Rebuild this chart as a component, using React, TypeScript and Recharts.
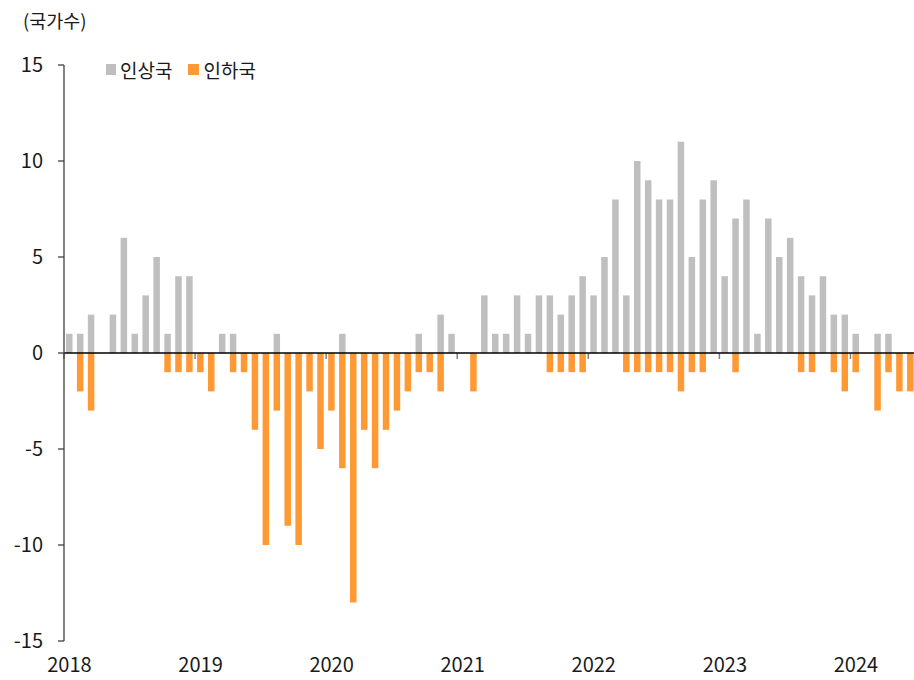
import React from 'react';
import { BarChart, Bar, XAxis, YAxis, ReferenceLine, Legend } from 'recharts';

const YEARS = [2018, 2019, 2020, 2021, 2022, 2023, 2024];
const MONTHS_IN_LAST_YEAR = 6;
const categories: string[] = [];
YEARS.forEach((y, i) => {
  const n = i === YEARS.length - 1 ? MONTHS_IN_LAST_YEAR : 12;
  for (let m = 1; m <= n; m++) categories.push(`${y}-${String(m).padStart(2, '0')}`);
});

// 인상국 (countries raising rates)
const hikes = [
  1, 1, 2, 0, 2, 6, 1, 3, 5, 1, 4, 4,
  0, 0, 1, 1, 0, 0, 0, 1, 0, 0, 0, 0,
  0, 1, 0, 0, 0, 0, 0, 0, 1, 0, 2, 1,
  0, 0, 3, 1, 1, 3, 1, 3, 3, 2, 3, 4,
  3, 5, 8, 3, 10, 9, 8, 8, 11, 5, 8, 9,
  4, 7, 8, 1, 7, 5, 6, 4, 3, 4, 2, 2,
  1, 0, 1, 1, 0, 0,
];

// 인하국 (countries cutting rates)
const cuts = [
  0, -2, -3, 0, 0, 0, 0, 0, 0, -1, -1, -1,
  -1, -2, 0, -1, -1, -4, -10, -3, -9, -10, -2, -5,
  -3, -6, -13, -4, -6, -4, -3, -2, -1, -1, -2, 0,
  0, -2, 0, 0, 0, 0, 0, 0, -1, -1, -1, -1,
  0, 0, 0, -1, -1, -1, -1, -1, -2, -1, -1, 0,
  0, -1, 0, 0, 0, 0, 0, -1, -1, 0, -1, -2,
  -1, 0, -3, -1, -2, -2,
];

const yTicks = [-15, -10, -5, 0, 5, 10, 15];
const HIKE_NAME = '인상국';
const CUT_NAME = '인하국';
const UNIT_LABEL = '(국가수)';

const HIKE_COLOR = '#BFBFBF';
const CUT_COLOR = '#FF9933';
const FONT = "'Noto Sans CJK KR', 'Noto Sans', sans-serif";

const data = categories.map((month, i) => ({ month, hike: hikes[i], cut: cuts[i] }));

const ZeroLineWithTicks = (props: any) => {
  const { x1, x2, y1 } = props;
  const n = categories.length;
  const band = (x2 - x1) / n;
  const marks: React.ReactNode[] = [];
  categories.forEach((c, i) => {
    if (c.endsWith('-01')) {
      const x = x1 + i * band;
      marks.push(<line key={c} x1={x} x2={x} y1={y1} y2={y1 + 6} stroke="#7F7F7F" strokeWidth={1.5} />);
    }
  });
  return (
    <g>
      {marks}
      <line x1={x1} x2={x2} y1={y1} y2={y1} stroke="#000" strokeWidth={1.5} />
    </g>
  );
};

const LegendContent = () => (
  <div style={{ display: 'flex', alignItems: 'center', whiteSpace: 'nowrap', fontFamily: FONT, fontSize: 19, color: '#1a1a1a', lineHeight: '19px' }}>
    <span style={{ display: 'inline-block', flex: 'none', width: 10, height: 11, background: HIKE_COLOR, marginRight: 4 }} />
    <span style={{ marginRight: 16 }}>{HIKE_NAME}</span>
    <span style={{ display: 'inline-block', flex: 'none', width: 11, height: 11, background: CUT_COLOR, marginRight: 4 }} />
    <span>{CUT_NAME}</span>
  </div>
);

export default function App() {
  return (
    <div style={{ position: 'absolute', left: 0, top: 0, width: 914, height: 680, overflow: 'hidden', background: '#fff' }}>
      <div style={{ position: 'absolute', left: 23, top: 10, fontFamily: FONT, fontSize: 18.5, lineHeight: '20px', color: '#1a1a1a' }}>
        {UNIT_LABEL}
      </div>
      <BarChart
        width={916}
        height={680}
        data={data}
        stackOffset="sign"
        margin={{ top: 65, right: 0, left: 0, bottom: 0 }}
        barCategoryGap={0}
        style={{ fontFamily: FONT }}
      >
        <XAxis
          dataKey="month"
          interval={11}
          axisLine={false}
          tickLine={false}
          height={39}
          tickSize={6}
          tickMargin={11}
          tickFormatter={(v: string) => v.slice(0, 4)}
          tick={{ fontSize: 20, fill: '#1a1a1a' }}
        />
        <YAxis
          width={64}
          domain={[-15, 15]}
          ticks={yTicks}
          interval={0}
          allowDataOverflow
          axisLine={{ stroke: '#404040', strokeWidth: 1.3 }}
          tickLine={{ stroke: '#404040', strokeWidth: 1.3 }}
          tickSize={6}
          tickMargin={15}
          tick={{ fontSize: 20, fill: '#1a1a1a' }}
        />
        <Legend
          layout="vertical"
          verticalAlign="middle"
          align="center"
          content={<LegendContent />}
          wrapperStyle={{ position: 'absolute', top: 60, left: 106, width: 200, height: 20 }}
        />
        <Bar dataKey="hike" name={HIKE_NAME} stackId="s" fill={HIKE_COLOR} barSize={6.5} isAnimationActive={false} />
        <Bar dataKey="cut" name={CUT_NAME} stackId="s" fill={CUT_COLOR} barSize={6.5} isAnimationActive={false} />
        <ReferenceLine y={0} shape={<ZeroLineWithTicks />} ifOverflow="visible" />
      </BarChart>
    </div>
  );
}
